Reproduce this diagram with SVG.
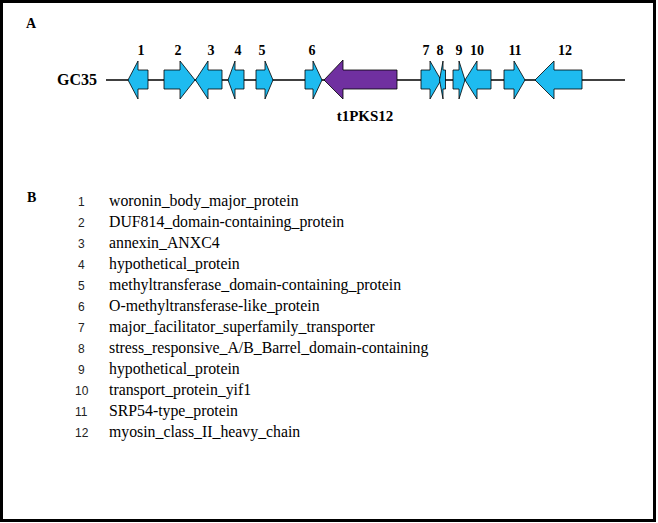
<svg xmlns="http://www.w3.org/2000/svg" width="658" height="523" viewBox="0 0 658 523">
<style>
.g{fill:#1EBBF0;stroke:#000;stroke-width:0.8}
.p{fill:#7030A0;stroke:#000;stroke-width:0.8}
.lb{font-family:"Liberation Serif",serif;font-weight:bold;font-size:14px;fill:#000}
.num{font-family:"Liberation Sans",sans-serif;font-size:12px;fill:#222}
.tx{font-family:"Liberation Serif",serif;font-size:15.8px;fill:#000}
</style>
<rect x="1.5" y="1.5" width="653" height="519" fill="#fff" stroke="#000" stroke-width="3"/>
<text class="lb" x="26" y="28">A</text>
<text class="lb" x="57" y="85" style="font-size:16px">GC35</text>
<g id="connectors"><line x1="106" y1="80" x2="625" y2="80" stroke="#000" stroke-width="1.5"/></g>
<g id="gene1"><polygon class="g" points="128,80 138,61 138,70 148,70 148,89 138,89 138,99"/><text class="lb" x="141" y="55" text-anchor="middle">1</text></g>
<g id="gene2"><polygon class="g" points="164,70 180,70 180,61 195,80 180,99 180,89 164,89"/><text class="lb" x="178" y="55" text-anchor="middle">2</text></g>
<g id="gene3"><polygon class="g" points="195.5,80 208,61 208,70 222,70 222,89 208,89 208,99"/><text class="lb" x="211" y="55" text-anchor="middle">3</text></g>
<g id="gene4"><polygon class="g" points="228,80 235,61 235,70 244,70 244,89 235,89 235,99"/><text class="lb" x="238" y="55" text-anchor="middle">4</text></g>
<g id="gene5"><polygon class="g" points="256,70 265,70 265,61 273,80 265,99 265,89 256,89"/><text class="lb" x="262" y="55" text-anchor="middle">5</text></g>
<g id="gene6"><polygon class="g" points="305,70 313,70 313,61 322,80 313,99 313,89 305,89"/><text class="lb" x="312" y="55" text-anchor="middle">6</text></g>
<g id="t1PKS12"><polygon class="p" points="324,80 343,60 343,70 397,70 397,89 343,89 343,99"/><text class="lb" x="365" y="121" text-anchor="middle" style="font-size:15px">t1PKS12</text></g>
<g id="gene7"><polygon class="g" points="421,70 430,70 430,61 441,80 430,99 430,89 421,89"/><text class="lb" x="426" y="55" text-anchor="middle">7</text></g>
<g id="gene8"><polygon class="g" points="439.5,80 443,61 443,70 445.5,70 445.5,89 443,89 443,99"/><text class="lb" x="440" y="55" text-anchor="middle">8</text></g>
<g id="gene9"><polygon class="g" points="453,70 459,70 459,61 465,80 459,99 459,89 453,89"/><text class="lb" x="459" y="55" text-anchor="middle">9</text></g>
<g id="gene10"><polygon class="g" points="465,80 477,61 477,70 491,70 491,89 477,89 477,99"/><text class="lb" x="477" y="55" text-anchor="middle">10</text></g>
<g id="gene11"><polygon class="g" points="504,70 514,70 514,61 525,80 514,99 514,89 504,89"/><text class="lb" x="515" y="55" text-anchor="middle">11</text></g>
<g id="gene12"><polygon class="g" points="535,80 554,61 554,70 582,70 582,89 554,89 554,99"/><text class="lb" x="565" y="55" text-anchor="middle">12</text></g>
<text class="lb" x="27" y="202">B</text>
<g id="legend">
<text class="num" x="78" y="206">1</text><text class="tx" x="109" y="206">woronin_body_major_protein</text>
<text class="num" x="78" y="227">2</text><text class="tx" x="109" y="227">DUF814_domain-containing_protein</text>
<text class="num" x="78" y="248">3</text><text class="tx" x="109" y="248">annexin_ANXC4</text>
<text class="num" x="78" y="269">4</text><text class="tx" x="109" y="269">hypothetical_protein</text>
<text class="num" x="78" y="290">5</text><text class="tx" x="109" y="290">methyltransferase_domain-containing_protein</text>
<text class="num" x="78" y="311">6</text><text class="tx" x="109" y="311">O-methyltransferase-like_protein</text>
<text class="num" x="78" y="332">7</text><text class="tx" x="109" y="332">major_facilitator_superfamily_transporter</text>
<text class="num" x="78" y="353">8</text><text class="tx" x="109" y="353">stress_responsive_A/B_Barrel_domain-containing</text>
<text class="num" x="78" y="374">9</text><text class="tx" x="109" y="374">hypothetical_protein</text>
<text class="num" x="75" y="395">10</text><text class="tx" x="109" y="395">transport_protein_yif1</text>
<text class="num" x="75" y="416">11</text><text class="tx" x="109" y="416">SRP54-type_protein</text>
<text class="num" x="75" y="437">12</text><text class="tx" x="109" y="437">myosin_class_II_heavy_chain</text>
</g>
</svg>
